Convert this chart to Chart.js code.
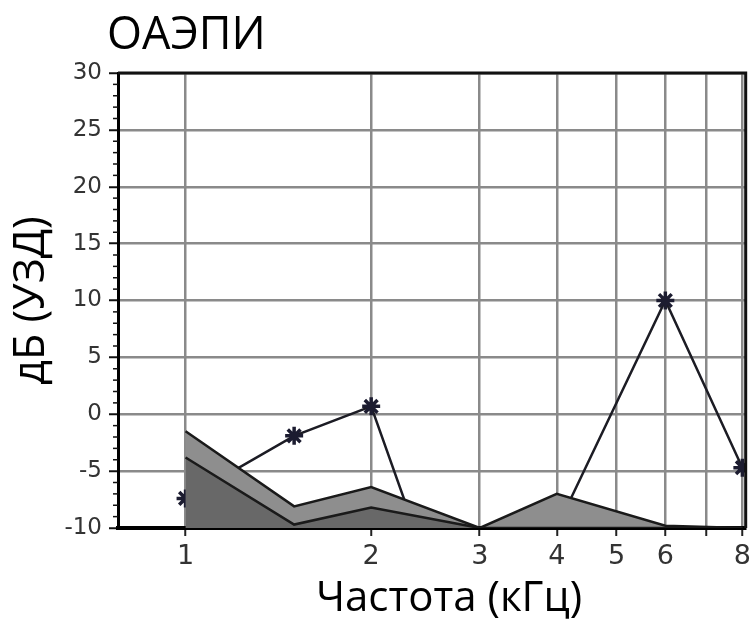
<!DOCTYPE html>
<html>
<head>
<meta charset="utf-8">
<script src="https://cdn.jsdelivr.net/npm/chart.js@4/dist/chart.umd.min.js"></script>
<style>
  body { margin: 0; background: #fff; }
  #wrap { position: relative; width: 756px; height: 620px; }
  #title { position: absolute; left: 107px; top: 9px; font: 45px "Open Sans"; line-height: 45px; color: #000; }
  #xtitle { position: absolute; left: 449px; top: 570px; transform: translateX(-50%); white-space: nowrap;
            font: 42px "Open Sans"; line-height: 50px; color: #000; }
</style>
</head>
<body>
<div id="wrap">
  <canvas id="chart" width="756" height="620"></canvas>
  <div id="title">ОАЭПИ</div>
  <div id="xtitle">Частота (кГц)</div>
</div>
<script>
// frequencies in kHz and levels in dB
const starFreqs = [1, 1.5, 2, 2.35, 3, 4, 6, 8];
const starLevels = [-7.4, -1.9, 0.7, -10, -10, -10, 10, -4.7];
const upperFreqs = [1, 1.5, 2, 3, 4, 6, 8];
const upperLevels = [-1.5, -8.1, -6.4, -10, -7, -9.8, -10];
const lowerFreqs = [1, 1.5, 2, 3, 4, 6, 8];
const lowerLevels = [-3.8, -9.7, -8.2, -10, -10, -10, -10];
const xTicks = [1, 2, 3, 4, 5, 6, 7, 8];
const xTickLabels = ['1', '2', '3', '4', '5', '6', '', '8'];

const toPoints = (xs, ys) => xs.map((x, i) => ({ x: x, y: ys[i] }));

// small unlabelled ticks on the left axis + dark frame on top/right
const extras = {
    id: 'extras',
    afterDatasetsDraw(chart) {
        const { ctx, chartArea: a } = chart;
        const y = chart.scales.y;
        ctx.save();
        ctx.strokeStyle = '#111';
        ctx.lineWidth = 1.5;
        for (let v = -10; v <= 30; v++) {
            if (v % 5 === 0) continue;
            const py = y.getPixelForValue(v);
            ctx.beginPath();
            ctx.moveTo(a.left - 5, py);
            ctx.lineTo(a.left, py);
            ctx.stroke();
        }
        ctx.lineWidth = 3;
        ctx.beginPath();
        ctx.moveTo(a.left, a.top);
        ctx.lineTo(a.right, a.top);
        ctx.lineTo(a.right, a.bottom);
        ctx.stroke();
        ctx.restore();
    }
};

new Chart(document.querySelector('#chart'), {
    type: 'line',
    data: {
        datasets: [
            {
                data: toPoints(lowerFreqs, lowerLevels),
                borderColor: '#1a1a1a',
                borderWidth: 2.5,
                backgroundColor: '#686868',
                fill: 'start',
                pointRadius: 0,
                order: 1
            },
            {
                data: toPoints(upperFreqs, upperLevels),
                borderColor: '#1a1a1a',
                borderWidth: 2.5,
                backgroundColor: '#8e8e8e',
                fill: 'start',
                pointRadius: 0,
                order: 2
            },
            {
                data: toPoints(starFreqs, starLevels),
                borderColor: '#1c1c24',
                borderWidth: 2.5,
                pointStyle: 'star',
                pointRadius: (c) => (starLevels[c.dataIndex] <= -10 ? 0 : 9),
                pointBorderWidth: 3.5,
                pointBorderColor: '#1c1c30',
                fill: false,
                order: 3
            }
        ]
    },
    options: {
        responsive: false,
        animation: false,
        layout: { autoPadding: false, padding: { top: 73, right: 7, left: 0, bottom: 0 } },
        plugins: { legend: { display: false }, tooltip: { enabled: false } },
        scales: {
            x: {
                type: 'logarithmic',
                min: 0.777,
                max: 8.1,
                afterBuildTicks: (s) => { s.ticks = xTicks.map(v => ({ value: v })); },
                afterFit: (s) => { s.height = 92; },
                ticks: {
                    autoSkip: false,
                    maxRotation: 0,
                    padding: 5,
                    color: '#333',
                    font: { family: 'DejaVu Sans', size: 27 },
                    callback: (v, i) => xTickLabels[i]
                },
                grid: { color: '#8a8a8a', lineWidth: 2.5, tickLength: 8, tickColor: '#222', tickWidth: 2 },
                border: { color: '#000', width: 4 }
            },
            y: {
                min: -10,
                max: 30,
                afterFit: (s) => { s.width = 118; },
                ticks: {
                    stepSize: 5,
                    padding: 7,
                    color: '#333',
                    font: { family: 'DejaVu Sans', size: 23 }
                },
                grid: { color: '#8a8a8a', lineWidth: 2.5, tickLength: 9, tickColor: '#111', tickWidth: 2 },
                border: { color: '#000', width: 3 },
                title: {
                    display: true,
                    text: 'дБ (УЗД)',
                    color: '#000',
                    font: { family: 'Open Sans', size: 43 },
                    padding: { top: 6, bottom: 0 }
                }
            }
        }
    },
    plugins: [extras]
});
</script>
</body>
</html>
